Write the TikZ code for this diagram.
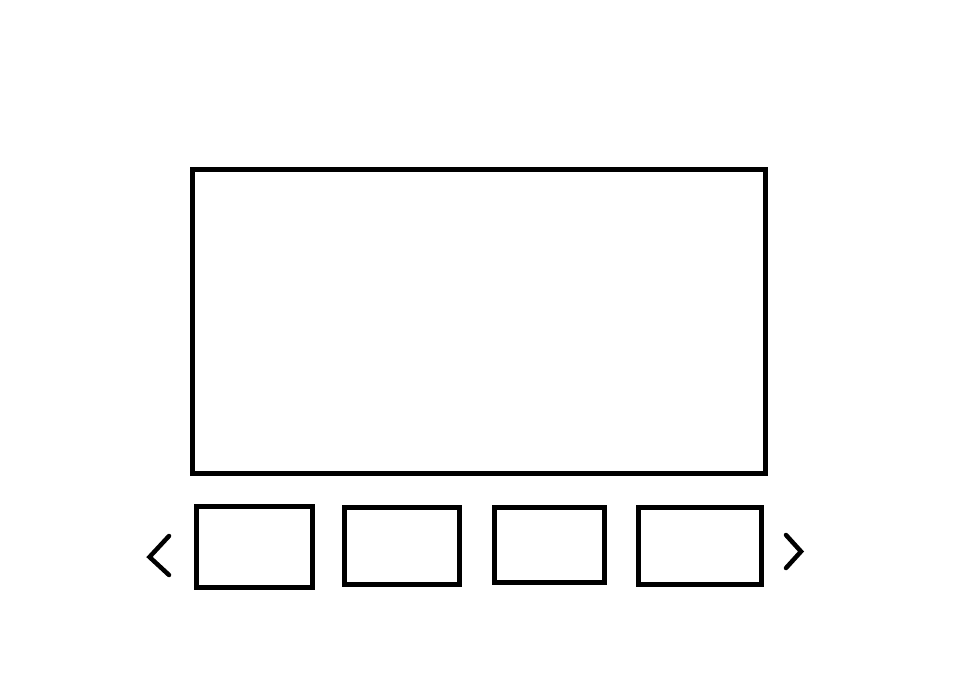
\documentclass[tikz,border=0pt]{standalone}
\begin{document}
\begin{tikzpicture}[x=1pt,y=-1pt,
  frame/.style={draw=black,line width=5pt,fill=none},
  chev/.style={draw=black,line width=4.5pt,line cap=round,line join=miter}]
\useasboundingbox[fill=white] (0,0) rectangle (958,676);
\coordinate (m1) at (192.5,170); \coordinate (m2) at (765.2,473.3);
\draw[frame] (m1) rectangle (m2);
\coordinate (a1) at (196,506); \coordinate (a2) at (312,587);
\draw[frame] (a1) rectangle (a2);
\coordinate (b1) at (344.7,507.5); \coordinate (b2) at (459.3,584.3);
\draw[frame] (b1) rectangle (b2);
\coordinate (c1) at (494.8,507); \coordinate (c2) at (604.3,582.3);
\draw[frame] (c1) rectangle (c2);
\coordinate (d1) at (638.5,507.5); \coordinate (d2) at (761.3,584.3);
\draw[frame] (d1) rectangle (d2);
\coordinate (l1) at (169,536); \coordinate (l2) at (149.5,557); \coordinate (l3) at (169,575);
\draw[chev] (l1) -- (l2) -- (l3);
\coordinate (r1) at (786,535); \coordinate (r2) at (801,551.5); \coordinate (r3) at (786,568);
\draw[chev] (r1) -- (r2) -- (r3);
\end{tikzpicture}
\end{document}
